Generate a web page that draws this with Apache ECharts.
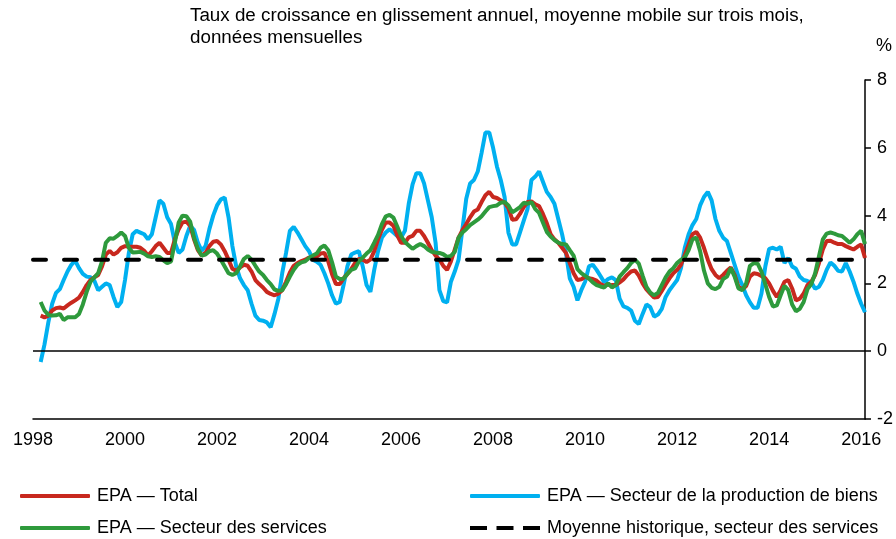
<!DOCTYPE html>
<html>
<head>
<meta charset="utf-8">
<script src="https://cdn.jsdelivr.net/npm/echarts@6/dist/echarts.min.js"></script>
<style>
  html, body { margin: 0; padding: 0; background: #fff; }
  #chart { width: 896px; height: 539px; }
</style>
</head>
<body>
<div id="chart"></div>
<script>
// months from 1998-01 to 2016-02, series begin in 1998-03
const firstYear = 1998;
const lastYear = 2016;
const lastMonth = 2;
const leadingGap = [null, null];

const yTicks = { min: -2, max: 8, step: 2 };
const histMean = 2.7;

// EPA - Total
const total = [
  1.05, 1.0, 1.05, 1.2, 1.27, 1.29, 1.26, 1.35, 1.43, 1.5,
  1.58, 1.75, 1.95, 2.1, 2.18, 2.25, 2.5, 2.85, 2.96, 2.85,
  2.92, 3.05, 3.1, 3.08, 3.08, 3.08, 3.05, 2.96, 2.82, 2.95,
  3.1, 3.2, 3.05, 2.9, 2.9, 3.3, 3.6, 3.8, 3.82, 3.7,
  3.3, 2.98, 2.82, 2.9, 3.1, 3.23, 3.25, 3.15, 2.95, 2.7,
  2.43, 2.37, 2.47, 2.55, 2.52, 2.35, 2.1, 1.98, 1.88, 1.75,
  1.69, 1.65, 1.7, 1.8, 2.05, 2.32, 2.52, 2.6, 2.66, 2.7,
  2.76, 2.76, 2.79, 2.88, 2.9, 2.65, 2.27, 1.98, 1.98, 2.15,
  2.28, 2.42, 2.6, 2.72, 2.7, 2.63, 2.7, 2.95, 3.3, 3.58,
  3.8, 3.8, 3.7, 3.42, 3.2, 3.2, 3.36, 3.4, 3.55, 3.55,
  3.4, 3.2, 2.98, 2.82, 2.7, 2.52, 2.4, 2.65, 3.0, 3.35,
  3.57, 3.75, 3.95, 4.12, 4.18, 4.4, 4.6, 4.7, 4.55, 4.52,
  4.45, 4.38, 4.22, 3.88, 3.89, 4.05, 4.25, 4.4, 4.42, 4.33,
  4.28, 4.05, 3.78, 3.45, 3.3, 3.2, 3.05, 2.9, 2.6, 2.3,
  2.1, 2.12, 2.2, 2.15, 2.13, 2.08, 1.98, 1.93, 1.97, 1.95,
  1.95, 2.03, 2.12, 2.25, 2.35, 2.38, 2.23, 2.0, 1.82, 1.7,
  1.58, 1.6, 1.78, 1.97, 2.15, 2.3, 2.4, 2.55, 2.85, 3.15,
  3.45, 3.52, 3.35, 3.05, 2.7, 2.42, 2.25, 2.15, 2.25, 2.37,
  2.47, 2.25, 1.9, 1.82, 1.92, 2.2, 2.3, 2.28, 2.22, 2.15,
  2.0, 1.78, 1.6, 1.8, 2.05, 2.1, 1.85, 1.5, 1.55, 1.7,
  1.95, 2.05, 2.25, 2.6, 3.0, 3.25, 3.26, 3.2, 3.16, 3.16,
  3.1, 3.05, 3.0, 3.08, 3.15, 2.75
];

// EPA - Secteur de la production de biens
const goods = [
  -0.32, 0.2, 0.85, 1.4, 1.72, 1.83, 2.1, 2.35, 2.55, 2.67,
  2.45, 2.28, 2.2, 2.18, 2.08, 1.8, 1.9, 2.0, 1.95, 1.6,
  1.3, 1.45, 2.1, 2.9, 3.45, 3.55, 3.5, 3.45, 3.3, 3.45,
  3.95, 4.45, 4.35, 3.95, 3.75, 3.2, 2.9, 3.0, 3.4, 3.7,
  3.58, 3.2, 2.96, 3.1, 3.6, 4.0, 4.3, 4.48, 4.53, 3.95,
  3.1, 2.5, 2.15, 1.95, 1.8, 1.4, 1.05, 0.92, 0.9, 0.85,
  0.71, 1.1, 1.55, 2.3, 2.9, 3.55, 3.67, 3.5, 3.3, 3.1,
  2.95, 2.7, 2.64, 2.55, 2.3, 2.0, 1.65, 1.4, 1.45, 1.95,
  2.5, 2.85, 2.91, 2.95, 2.5, 1.95, 1.75, 2.4, 2.95, 3.35,
  3.5, 3.6, 3.5, 3.4, 3.35, 3.55, 4.35, 4.92, 5.25, 5.25,
  4.95, 4.45, 3.95, 3.2, 1.8, 1.48, 1.44, 2.05, 2.35, 2.7,
  3.6, 4.5, 4.95, 5.05, 5.3, 5.85, 6.45, 6.45, 6.0, 5.45,
  5.05, 4.55, 3.5, 3.15, 3.15, 3.5, 3.85, 4.2, 5.05, 5.15,
  5.3, 5.0, 4.7, 4.55, 4.35, 3.9, 3.45, 2.9, 2.15, 1.9,
  1.5, 1.8, 2.05, 2.5, 2.55, 2.4, 2.22, 2.03, 2.13, 2.18,
  2.1, 1.55, 1.32, 1.28, 1.2, 0.9, 0.8, 1.1, 1.38, 1.3,
  1.02, 1.08, 1.25, 1.6, 1.8, 1.95, 2.1, 2.45, 3.05, 3.45,
  3.72, 3.9, 4.3, 4.55, 4.7, 4.45, 3.9, 3.55, 3.35, 3.25,
  2.9, 2.55, 2.2, 1.95, 1.65, 1.44, 1.28, 1.28, 1.7, 2.5,
  3.02, 3.05, 3.0, 3.08, 2.6, 2.75, 2.5, 2.43, 2.2, 2.1,
  2.07, 2.03, 1.84, 1.9, 2.1, 2.4, 2.62, 2.52, 2.37, 2.35,
  2.6, 2.35, 2.05, 1.7, 1.4, 1.15
];

// EPA - Secteur des services
const services = [
  1.45, 1.2, 1.07, 1.05, 1.06, 1.1, 0.92, 1.0, 1.0, 1.0,
  1.1, 1.38, 1.75, 2.05, 2.18, 2.3, 2.65, 3.2, 3.33, 3.32,
  3.4, 3.5, 3.4, 3.05, 2.91, 2.92, 2.93, 2.88, 2.8, 2.78,
  2.8, 2.78, 2.68, 2.6, 2.65, 3.2, 3.8, 4.0, 3.98, 3.82,
  3.35, 3.02, 2.82, 2.85, 2.95, 2.98, 2.88, 2.7, 2.5, 2.3,
  2.25, 2.3, 2.5, 2.72, 2.81, 2.7, 2.52, 2.35, 2.25, 2.1,
  1.98, 1.82, 1.78, 1.8, 1.98, 2.2, 2.4, 2.55, 2.62, 2.65,
  2.75, 2.82, 2.88, 3.05, 3.12, 2.98, 2.62, 2.2, 2.13, 2.14,
  2.28, 2.4, 2.44, 2.65, 2.76, 2.88, 2.98, 3.2, 3.43, 3.75,
  3.98, 4.02, 3.94, 3.68, 3.4, 3.22, 3.12, 3.02, 3.1, 3.16,
  3.1, 3.0, 2.93, 2.91, 2.9, 2.86, 2.78, 2.81, 2.93, 3.35,
  3.5, 3.6, 3.72, 3.8, 3.88, 3.98, 4.12, 4.25, 4.28, 4.3,
  4.38, 4.4, 4.3, 4.1, 4.17, 4.25, 4.38, 4.35, 4.4, 4.19,
  4.08, 3.8, 3.52, 3.38, 3.28, 3.2, 3.16, 3.15, 2.98, 2.82,
  2.42, 2.3, 2.22, 2.14, 2.03, 1.95, 1.91, 1.88, 2.0, 1.88,
  1.95, 2.2, 2.33, 2.45, 2.6, 2.7, 2.58, 2.23, 1.9, 1.73,
  1.65, 1.72, 1.95, 2.18, 2.35, 2.45, 2.6, 2.7, 2.76, 2.98,
  3.3, 3.35, 2.95, 2.38, 2.0, 1.87, 1.83, 1.9, 2.13, 2.2,
  2.45, 2.2, 1.85, 1.8, 2.0, 2.52, 2.6, 2.58, 2.35, 1.98,
  1.6, 1.32, 1.35, 1.65, 1.93, 1.8, 1.38, 1.18, 1.25, 1.45,
  1.83, 1.98, 2.3, 2.8, 3.3, 3.47, 3.5, 3.47, 3.42, 3.4,
  3.3, 3.2, 3.3, 3.45, 3.55, 3.16
];

const names = {
  total: "EPA \u2014 Total",
  goods: "EPA \u2014 Secteur de la production de biens",
  services: "EPA \u2014 Secteur des services",
  mean: "Moyenne historique, secteur des services",
};

const months = [];
for (let y = firstYear; y <= lastYear; y++) {
  for (let m = 1; m <= 12; m++) {
    if (y === lastYear && m > lastMonth) break;
    months.push(y + "-" + (m < 10 ? "0" + m : m));
  }
}

const font = "'Liberation Sans', Arial, sans-serif";
const colors = { total: "#C8281E", goods: "#00B0F0", services: "#2E9A3C", mean: "#000" };
const dashIcon = "path://M0,0h17v4h-17z M26.5,0h17v4h-17z M53,0h17v4h-17z";

// one legend block per entry, laid out in two columns of two rows
function legendAt(name, left, top, icon) {
  return {
    left: left,
    top: top,
    padding: 0,
    itemWidth: 70,
    itemHeight: 4,
    icon: icon,
    textStyle: { fontSize: 18, color: "#000", fontFamily: font, padding: [0, 0, 0, 2] },
    data: [name],
  };
}

const myChart = echarts.init(document.getElementById("chart"));

const option = {
  animation: false,
  textStyle: { fontFamily: font },
  grid: { left: 33, right: 30, top: 80, bottom: 120 },
  graphic: [
    {
      type: "text",
      left: 190,
      top: 5,
      style: {
        text: "Taux de croissance en glissement annuel, moyenne mobile sur trois mois,\ndonnées mensuelles",
        font: "18.8px " + font,
        lineHeight: 22,
        fill: "#000",
      },
    },
    {
      type: "text",
      left: 876,
      top: 37,
      style: { text: "%", font: "18px " + font, fill: "#000" },
    },
  ],
  legend: [
    legendAt(names.total, 20, 487, "roundRect"),
    legendAt(names.services, 20, 519, "roundRect"),
    legendAt(names.goods, 470, 487, "roundRect"),
    legendAt(names.mean, 470, 519, dashIcon),
  ],
  xAxis: {
    type: "category",
    data: months,
    boundaryGap: false,
    axisLine: { onZero: false, lineStyle: { color: "#000", width: 1.5 } },
    axisTick: { show: false },
    splitLine: { show: false },
    axisLabel: {
      color: "#000",
      fontSize: 18,
      margin: 12,
      fontFamily: font,
      interval: (i, v) => v.endsWith("-01") && Number(v.slice(0, 4)) % 2 === 0,
      formatter: (v) => v.slice(0, 4),
    },
  },
  yAxis: {
    type: "value",
    position: "right",
    min: yTicks.min,
    max: yTicks.max,
    interval: yTicks.step,
    axisLine: { show: true, lineStyle: { color: "#000", width: 1.5 } },
    axisTick: { show: true, inside: false, length: 6, lineStyle: { color: "#000", width: 1.5 } },
    splitLine: { show: false },
    axisLabel: { color: "#000", fontSize: 18, margin: 12, fontFamily: font },
  },
  series: [
    {
      name: names.goods,
      type: "line",
      symbol: "none",
      data: leadingGap.concat(goods),
      lineStyle: { color: colors.goods, width: 4 },
      itemStyle: { color: colors.goods },
      markLine: {
        silent: true,
        symbol: "none",
        label: { show: false },
        lineStyle: { color: "#000", width: 1.5, type: "solid" },
        data: [{ yAxis: 0 }],
      },
    },
    {
      name: names.total,
      type: "line",
      symbol: "none",
      data: leadingGap.concat(total),
      lineStyle: { color: colors.total, width: 4 },
      itemStyle: { color: colors.total },
    },
    {
      name: names.services,
      type: "line",
      symbol: "none",
      data: leadingGap.concat(services),
      lineStyle: { color: colors.services, width: 4 },
      itemStyle: { color: colors.services },
    },
    {
      name: names.mean,
      type: "line",
      symbol: "none",
      data: [
        [months[0], histMean],
        [months[months.length - 1], histMean],
      ],
      lineStyle: { color: colors.mean, width: 4, type: [13, 18], cap: "round" },
      itemStyle: { color: colors.mean },
    },
  ],
};

myChart.setOption(option);
</script>
</body>
</html>
